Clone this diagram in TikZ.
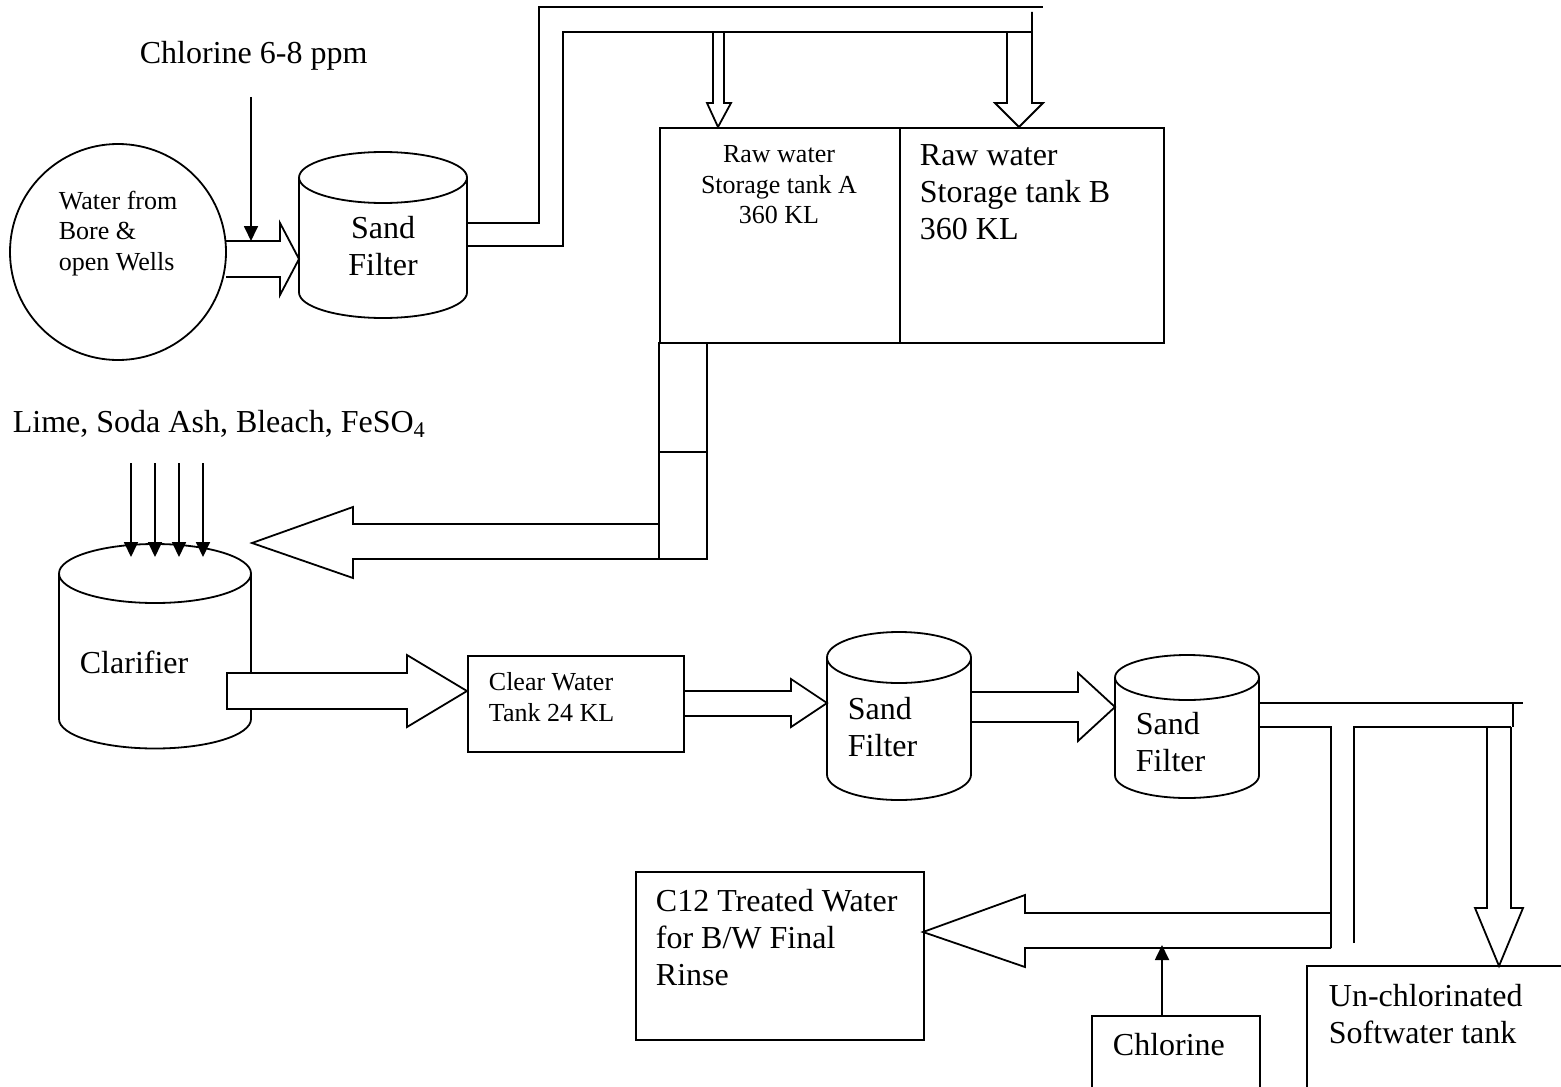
\documentclass[tikz,border=0pt]{standalone}
\usepackage{fontspec}
\setmainfont{Liberation Serif}
\usetikzlibrary{arrows.meta,positioning}

\tikzset{pics/drum/.style n args={3}{code={
    \draw (-#1,0) -- (-#1,#2) arc[start angle=180,end angle=0,x radius=#1,y radius=#3] -- (#1,0);
    \draw (0,0) ellipse[x radius=#1,y radius=#3];
}}}

\begin{document}
\begin{tikzpicture}[x=0.5pt,y=-0.5pt,line width=0.9pt]
    \tikzstyle{box}=[draw,inner sep=0,anchor=north west]
    \tikzstyle{big}=[font=\fontsize{16}{18.5}\selectfont,inner sep=0,align=left]
    \tikzstyle{small}=[font=\fontsize{13}{15.25}\selectfont,inner sep=0,align=left]
    \tikzstyle{dose}=[-{Triangle[length=7.5pt,width=7pt]}]

    \useasboundingbox (0,0) rectangle (1561,1086);

    % source, first filter and storage tanks
    \node[draw,circle,minimum size=108pt,inner sep=0] (well) at (118,252) {};
    \node[small,anchor=north west] (welltxt) at (58,190) {Water from\\Bore \&\\open Wells};
    \pic at (383,177.5) {drum={84}{115}{25.5}};
    \node[big,anchor=north,align=center] (sf1txt) at (383,215) {Sand\\Filter};
    \node[big,anchor=base west] (cl1) at (139,64) {Chlorine 6-8 ppm};
    \node[box,minimum width=120pt,minimum height=107.5pt] (tankA) at (659,127) {};
    \node[box,minimum width=132pt,minimum height=107.5pt] (tankB) at (899,127) {};
    \node[small,anchor=north,align=center] (tankAtxt) at (779,145) {Raw water\\Storage tank A\\360 KL};
    \node[big,anchor=north west] (tankBtxt) at (919,144) {Raw water\\Storage tank B\\360 KL};

    \draw[dose] (251,97) -- (251,241);
    \draw (226,241) -- (280,241) -- (280,223) -- (299,259) -- (280,295) -- (280,277) -- (226,277);

    % pipe up and over to the tanks
    \draw (467,223) -- (539,223) -- (539,7) -- (1043,7);
    \draw (467,246) -- (563,246) -- (563,32) -- (1032,32);
    \draw (713,32) -- (713,103) -- (707,103) -- (718,127) -- (731,103) -- (724,103) -- (724,32);
    \draw (1007,32) -- (1007,103) -- (995,103) -- (1019,127) -- (1043,103) -- (1032,103) -- (1032,12);

    % outlet of the tanks back to the clarifier
    \draw (659,342) -- (659,559);
    \draw (659,452) -- (707,452);
    \draw (659,524) -- (353,524) -- (353,507) -- (252,543) -- (353,578) -- (353,559) -- (707,559) -- (707,342);

    % clarifier line
    \node[big,anchor=base west] (chem) at (12,432) {Lime, Soda Ash, Bleach, FeSO\textsubscript{4}};
    \foreach \x in {131,155,179,203}
        \draw[dose] (\x,463) -- (\x,557);
    \pic at (155,573.5) {drum={96}{145.5}{29.5}};
    \node[big,anchor=base west] (clartxt) at (79,673) {Clarifier};
    \draw[fill=white] (227,673) -- (407,673) -- (407,655) -- (467,691) -- (407,727) -- (407,709) -- (227,709) -- cycle;
    \node[box,minimum width=108pt,minimum height=48pt] (clear) at (467,655) {};
    \node[small,anchor=north west] (cleartxt) at (488,672) {Clear Water\\Tank 24 KL};

    \draw (683,691) -- (791,691) -- (791,679) -- (827,703) -- (791,727) -- (791,716) -- (683,716);
    \pic at (899,657.5) {drum={72}{117}{25.5}};
    \node[big,anchor=north west] (sf2txt) at (847,696) {Sand\\Filter};

    \draw (971,692) -- (1078,692) -- (1078,673) -- (1115,707) -- (1078,741) -- (1078,722) -- (971,722);
    \pic at (1187,677.5) {drum={72}{98}{22.5}};
    \node[big,anchor=north west] (sf3txt) at (1135,711) {Sand\\Filter};

    % split after the last filter
    \draw (1259,703) -- (1523,703);
    \draw (1513,703) -- (1513,727);
    \draw (1259,727) -- (1331,727) -- (1331,948);
    \draw (1354,943) -- (1354,727) -- (1511,727);
    \draw (1331,913) -- (1025,913) -- (1025,895) -- (923,932) -- (1025,967) -- (1025,948) -- (1331,948);
    \draw (1487,727) -- (1487,908) -- (1475,908) -- (1499,966) -- (1523,908) -- (1511,908) -- (1511,727);

    \node[box,minimum width=144pt,minimum height=84pt] (c12) at (635,871) {};
    \node[big,anchor=north west] (c12txt) at (655,888) {C12 Treated Water\\for B/W Final\\Rinse};
    \node[box,minimum width=84pt,minimum height=50pt] (chlor) at (1091,1015) {};
    \node[big,anchor=base west] (chlortxt) at (1112,1055) {Chlorine};
    \draw[dose] (1162,1015) -- (1162,945);
    \draw (1307,1100) -- (1307,966) -- (1580,966);
    \node[big,anchor=north west] (softtxt) at (1328,983) {Un-chlorinated\\Softwater tank};
\end{tikzpicture}
\end{document}
